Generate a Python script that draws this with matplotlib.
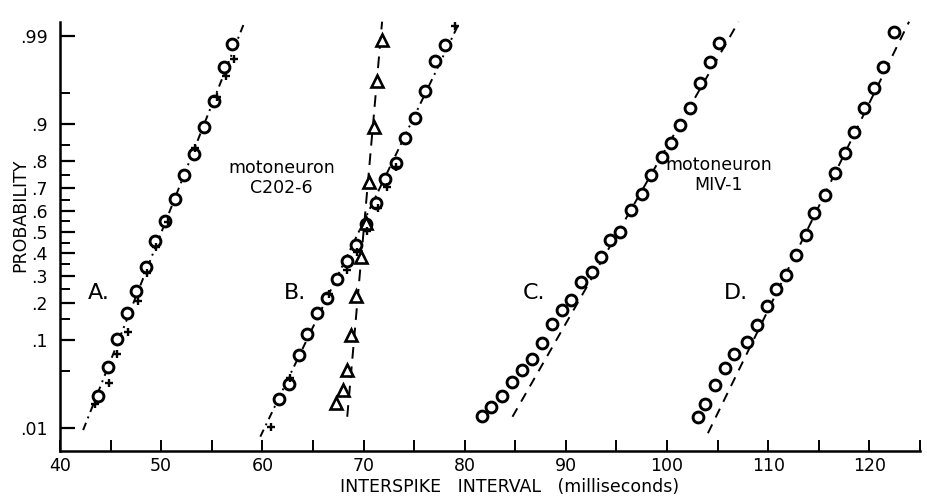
import numpy as np
import matplotlib
matplotlib.use("Agg")
import matplotlib.pyplot as plt
from matplotlib.ticker import FixedLocator, FixedFormatter, NullFormatter
from statistics import NormalDist

# ---------------- data ----------------
# Curve A: open circles
a_circ_x = [43.79, 44.72, 45.67, 46.60, 47.52, 48.51, 49.41, 50.33, 51.39, 52.28, 53.20, 54.19, 55.18, 56.17, 57.00]
a_circ_p = [0.0259, 0.054, 0.1015, 0.169, 0.243, 0.340, 0.459, 0.553, 0.651, 0.750, 0.824, 0.894, 0.940, 0.9746, 0.987]
# Curve A: crosses
a_cross_x = [43.47, 44.88, 45.67, 46.70, 47.75, 48.58, 49.50, 50.72, 53.30, 55.51, 56.37, 57.23]
a_cross_p = [0.0207, 0.0363, 0.074, 0.1186, 0.2065, 0.312, 0.431, 0.549, 0.840, 0.9458, 0.968, 0.9798]

# Curve B: open circles
b_circ_x = [61.61, 62.60, 63.59, 64.43, 65.42, 66.41, 67.40, 68.32, 69.28, 70.20, 71.26, 72.08, 73.17, 74.06, 75.05, 76.07, 77.03, 78.02]
b_circ_p = [0.0236, 0.0357, 0.0723, 0.1131, 0.169, 0.216, 0.287, 0.367, 0.439, 0.538, 0.633, 0.734, 0.794, 0.868, 0.911, 0.953, 0.979, 0.9867]
# Curve B: crosses
b_cross_x = [60.84, 62.71, 66.57, 68.39, 69.31, 70.30, 71.42, 72.28, 73.17, 79.01]
b_cross_p = [0.0102, 0.0418, 0.230, 0.324, 0.406, 0.504, 0.614, 0.705, 0.779, 0.9927]

# Triangles (steep curve)
t_x = [67.23, 67.99, 68.32, 68.78, 69.21, 69.77, 70.20, 70.52, 71.02, 71.29, 71.85]
t_p = [0.0211, 0.0305, 0.0508, 0.111, 0.224, 0.382, 0.541, 0.725, 0.893, 0.9634, 0.9886]

# Curve C: circles
c_x = [81.75, 82.64, 83.73, 84.72, 85.64, 86.63, 87.62, 88.61, 89.57, 90.50, 91.49, 92.54, 93.47,
       94.39, 95.38, 96.44, 97.50, 98.42, 99.48, 100.40, 101.29, 102.28, 103.27, 104.26, 105.18]
c_p = [0.0145, 0.0188, 0.0261, 0.0379, 0.0508, 0.0655, 0.0934, 0.1377, 0.1775, 0.2099, 0.2777, 0.3188, 0.3848,
       0.4622, 0.5014, 0.603, 0.674, 0.7505, 0.812, 0.8537, 0.8978, 0.9288, 0.9617, 0.9783, 0.9876]

# Curve D: circles
d_x = [103.04, 103.79, 104.78, 105.77, 106.60, 107.92, 108.88, 109.87, 110.79, 111.78, 112.77,
       113.76, 114.52, 115.57, 116.56, 117.62, 118.49, 119.44, 120.43, 121.36, 122.45]
d_p = [0.0140, 0.0207, 0.0348, 0.0537, 0.0734, 0.0966, 0.135, 0.190, 0.2485, 0.305, 0.3925,
       0.486, 0.588, 0.670, 0.757, 0.8246, 0.883, 0.9288, 0.9559, 0.9751, 0.9913]

# Fitted normal lines: name, mean, sd, p-range
fit_names = ["A", "B", "T", "C", "D"]
fit_mu = [50.03, 69.52, 70.0, 95.17, 113.76]
fit_sd = [3.296, 4.005, 0.735, 4.768, 4.073]
fit_plo = [0.0094, 0.0076, 0.0142, 0.0142, 0.0085]
fit_phi = [0.993, 0.9934, 0.9937, 0.9937, 0.9937]

# Axis ticks
y_major = [0.01, 0.1, 0.2, 0.3, 0.4, 0.5, 0.6, 0.7, 0.8, 0.9, 0.99]
y_major_labels = [".01", ".1", ".2", ".3", ".4", ".5", ".6", ".7", ".8", ".9", ".99"]
y_minor = [0.05, 0.15, 0.25, 0.35, 0.45, 0.55, 0.65, 0.75, 0.85, 0.95]
x_major = [40, 50, 60, 70, 80, 90, 100, 110, 120]
x_minor = [45, 55, 65, 75, 85, 95, 105, 115, 125]

# ---------------- probability scale ----------------
nd = NormalDist()
_ppf = np.vectorize(nd.inv_cdf, otypes=[float])
_cdf = np.vectorize(nd.cdf, otypes=[float])


def fwd(p):
    p = np.clip(np.asarray(p, dtype=float), 1e-9, 1 - 1e-9)
    return _ppf(p)


def inv(z):
    return _cdf(np.asarray(z, dtype=float))


fig = plt.figure(figsize=(9.28, 4.97), dpi=100)
ax = fig.add_axes([60 / 928, 1 - 451 / 497, 860 / 928, (451 - 21.7) / 497])
ax.set_yscale("function", functions=(fwd, inv))
ax.set_xlim(40, 125)
ax.set_ylim(0.00469, 0.9937)

# fitted lines
styles = {"A": (0, (4, 2.5, 1, 2.5)), "B": (0, (4, 2.5, 1, 2.5)),
          "T": (0, (6, 4)), "C": (0, (5, 4)), "D": (0, (5, 4))}
for name, mu, sd, plo, phi in zip(fit_names, fit_mu, fit_sd, fit_plo, fit_phi):
    zz = np.linspace(nd.inv_cdf(plo), nd.inv_cdf(phi), 60)
    ax.plot(mu + sd * zz, inv(zz), color="black", lw=1.4, linestyle=styles[name],
            clip_on=False, zorder=2)

circ_kw = dict(linestyle="none", marker="o", markersize=7.8, markerfacecolor="white",
               markeredgecolor="black", markeredgewidth=2.1, zorder=4)
cross_kw = dict(linestyle="none", marker="+", markersize=5.5, color="black",
                markeredgewidth=1.7, zorder=5)

ax.plot(a_cross_x, a_cross_p, **cross_kw)
ax.plot(a_circ_x, a_circ_p, **circ_kw)
ax.plot(b_cross_x, b_cross_p, **cross_kw)
ax.plot(b_circ_x, b_circ_p, **circ_kw)
ax.plot(t_x, t_p, linestyle="none", marker="^", markersize=9, markerfacecolor="white",
        markeredgecolor="black", markeredgewidth=1.9, zorder=4)
ax.plot(c_x, c_p, **circ_kw)
ax.plot(d_x, d_p, **circ_kw)

# ticks
ax.yaxis.set_major_locator(FixedLocator(y_major))
ax.yaxis.set_major_formatter(FixedFormatter(y_major_labels))
ax.yaxis.set_minor_locator(FixedLocator(y_minor))
ax.yaxis.set_minor_formatter(NullFormatter())
ax.xaxis.set_major_locator(FixedLocator(x_major))
ax.xaxis.set_minor_locator(FixedLocator(x_minor))
ax.tick_params(axis="y", which="major", direction="in", length=11, width=1.6,
               labelsize=12.5, pad=9)
ax.tick_params(axis="y", which="minor", direction="in", length=7, width=1.4)
ax.tick_params(axis="x", which="both", direction="in", length=8, width=1.4,
               labelsize=12.5, pad=4)

for s in ("top", "right"):
    ax.spines[s].set_visible(False)
for s in ("left", "bottom"):
    ax.spines[s].set_linewidth(1.8)

# annotations
for lab, lx in zip(["A.", "B.", "C.", "D."], [43.86, 63.27, 86.83, 106.83]):
    ax.text(lx, 0.2346, lab, fontsize=16, ha="center", va="center")
ax.text(61.9, 0.74, "motoneuron\nC202-6", fontsize=12.5, ha="center", va="center",
        linespacing=1.15)
ax.text(105.1, 0.75, "motoneuron\nMIV-1", fontsize=12.5, ha="center", va="center",
        linespacing=1.15)

fig.text(510 / 928, 1 - 487 / 497, "INTERSPIKE   INTERVAL   (milliseconds)",
         fontsize=12.5, ha="center", va="center")
fig.text(20 / 928, 1 - 215 / 497, "PROBABILITY", fontsize=12.5, ha="center",
         va="center", rotation=90)

fig.savefig("out.png", dpi=100)
